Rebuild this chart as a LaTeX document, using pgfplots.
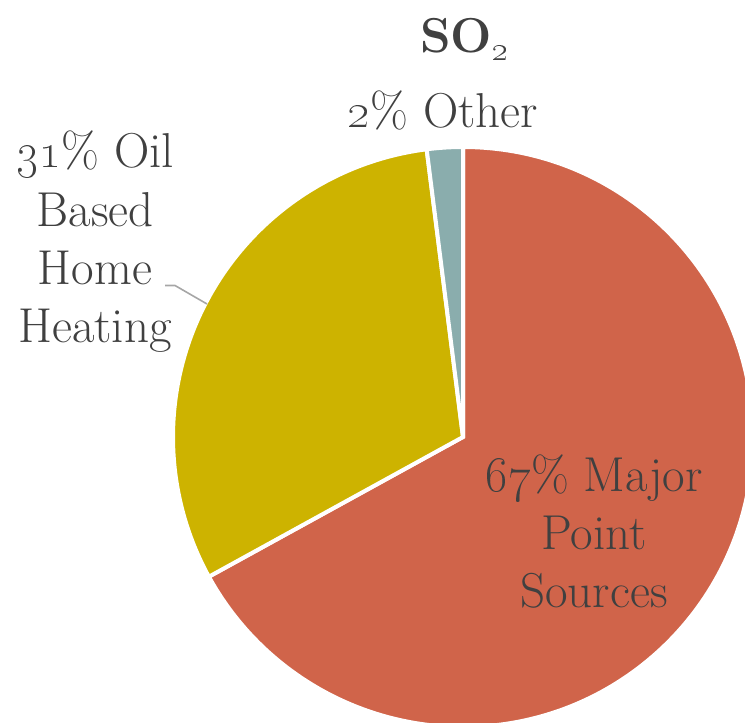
\documentclass[border=0pt]{standalone}
\usepackage{pgfplots}
\pgfplotsset{compat=1.18}
\definecolor{majorc}{HTML}{D0644A}
\definecolor{oilc}{HTML}{CDB300}
\definecolor{otherc}{HTML}{8AADAD}
\definecolor{txt}{HTML}{404040}
\definecolor{leader}{HTML}{A6A6A6}
\begin{document}
\begin{tikzpicture}
\begin{axis}[
  hide axis,
  scale only axis,
  width=372.5pt, height=361.5pt,
  xmin=0, xmax=745, ymin=0, ymax=723,
  clip=true,
]
% shares: 67 major point sources, 31 oil based home heating, 2 other
% slices run clockwise from the top, centre (463,286), radius 290 units = 145pt
\addplot[draw=none] coordinates {(463,286)};
\fill[majorc, draw=white, line width=2pt] (axis cs:463,286) -- ++(90:145pt)
  arc[start angle=90, end angle={90-3.6*67}, radius=145pt] -- cycle;
\fill[oilc, draw=white, line width=2pt] (axis cs:463,286) -- ++({90-3.6*67}:145pt)
  arc[start angle={90-3.6*67}, end angle={90-3.6*(67+31)}, radius=145pt] -- cycle;
\fill[otherc, draw=white, line width=2pt] (axis cs:463,286) -- ++({90-3.6*(67+31)}:145pt)
  arc[start angle={90-3.6*(67+31)}, end angle={90-3.6*(67+31+2)}, radius=145pt] -- cycle;
\draw[leader, line width=0.8pt] (axis cs:165,437.5) -- (axis cs:175,437.5) -- (axis cs:207,419);
\begin{scope}[every node/.style={text=txt, anchor=base, inner sep=0pt,
    font=\fontsize{24.5}{29}\selectfont}]
\node[font=\fontsize{24.5}{29}\selectfont\bfseries] at (axis cs:465,670) {SO\textsubscript{\oldstylenums{2}}};
\node at (axis cs:443,595) {\oldstylenums{2}\% Other};
\node at (axis cs:95,555) {\oldstylenums{31}\% Oil};
\node at (axis cs:95,496) {Based};
\node at (axis cs:95,438) {Home};
\node at (axis cs:95,380) {Heating};
\node at (axis cs:594,231) {\oldstylenums{67}\% Major};
\node at (axis cs:594,173) {Point};
\node at (axis cs:594,115) {Sources};
\end{scope}
\end{axis}
\pgfresetboundingbox
\useasboundingbox (0,0) rectangle (372.5pt,361.5pt);
\end{tikzpicture}
\end{document}
